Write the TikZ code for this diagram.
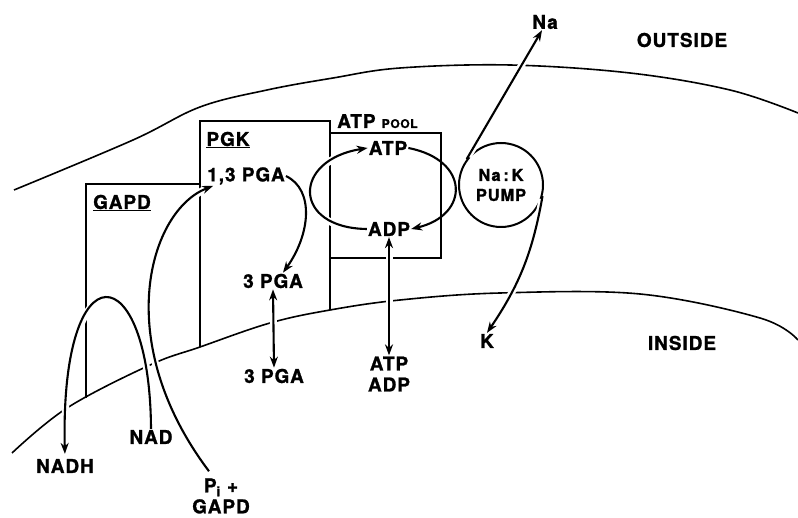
\documentclass[tikz,border=0pt]{standalone}
\usepackage{fontspec}
\setmainfont[LetterSpace=5,BoldFeatures={FakeBold=1.2}]{TeX Gyre Heros}
\usetikzlibrary{arrows.meta,positioning,calc}
\tikzset{
  lbl/.style={inner sep=1pt,font=\bfseries\fontsize{19}{21}\selectfont,align=center},
  pumpnode/.style={circle,draw,line width=2pt,minimum size=84pt,inner sep=0pt,font=\bfseries\fontsize{16.5}{20}\selectfont,align=center},
  memb/.style={line width=1.6pt},
  wall/.style={line width=2.6pt},
  de/.style={-{Stealth[length=11pt,width=8pt]},line width=2.1pt},
  dde/.style={{Stealth[length=11pt,width=8pt]}-{Stealth[length=11pt,width=8pt]},line width=2.1pt},
  gap/.style={preaction={draw=white,line width=7pt,arrows=-,shorten <=3pt,shorten >=3pt}}
}
\begin{document}
\begin{tikzpicture}[x=1pt,y=-1pt]
\useasboundingbox (0,0) rectangle (798,518);
% membrane
\draw[memb] plot[smooth,tension=0.6] coordinates {(14,190) (133,140) (200,107) (267,90) (333,78) (400,68) (510,65) (630,73) (730,90) (798,113)};
\draw[memb] plot[smooth,tension=0.6] coordinates {(12,453) (67,408) (150,365) (200,347) (270,323) (330,310) (400,300) (500,293) (640,294) (760,318) (798,340)};
% enzyme boxes
\draw[wall] (86,398) -- (86,184) -- (200,184);
\draw[wall] (200,347) -- (200,121) -- (330,121) -- (330,310);
\draw[wall] (330,133) -- (441,133) -- (441,258) -- (330,258);
% labels
\node[lbl] (gapd) at (122,203) {\underline{GAPD}};
\node[lbl] (pgk) at (228,140) {\underline{PGK}};
\node[lbl] (pga13) at (246,176) {1,3 PGA};
\node[lbl,anchor=base west] (pool) at (336,128) {ATP {\fontsize{12}{14}\selectfont POOL}};
\node[lbl] (atp) at (388,148) {ATP};
\node[lbl] (adp) at (389,229) {ADP};
\node[lbl] (pga3a) at (273,281) {3 PGA};
\node[lbl] (pga3b) at (274,376) {3 PGA};
\node[lbl] (atpadp) at (389,374) {ATP\\ADP};
\node[pumpnode] (pump) at (501,185) {Na\,:\,K\\PUMP};
\node[lbl] (na) at (545,22) {Na};
\node[lbl] (k) at (487,341) {K};
\node[lbl] (outside) at (682,40) {OUTSIDE};
\node[lbl] (inside) at (682,343) {INSIDE};
\node[lbl] (nadh) at (65,466) {NADH};
\node[lbl] (nad) at (151,437) {NAD};
\node[lbl] (pi) at (221,496) {P\textsubscript{i} +\\GAPD};
% reactions
\draw[de,gap,shorten >=4pt] (nad.north) .. controls (150,255) and (60,245) .. (nadh.north);
\draw[de,gap] ([xshift=-12pt,yshift=6pt]pi.north) .. controls (110,340) and (150,210) .. ([xshift=7pt]pga13.south west);
\draw[de,gap] (adp.west) .. controls (292,228) and (292,160) .. (atp.west);
\draw[de] (pga13.east) .. controls (315,190) and (310,235) .. ([xshift=10pt]pga3a.north);
\draw[de] (atp.east) .. controls (470,160) and (470,215) .. (adp.east);
\draw[de,gap] (pump.143) -- (na.-110);
\draw[de,gap] (pump.-15) to[bend left=12] (k.north);
\draw[dde,gap] (pga3a.south) -- (pga3b.north);
\draw[dde,gap] (adp.south) -- (atpadp.north);
\end{tikzpicture}
\end{document}
